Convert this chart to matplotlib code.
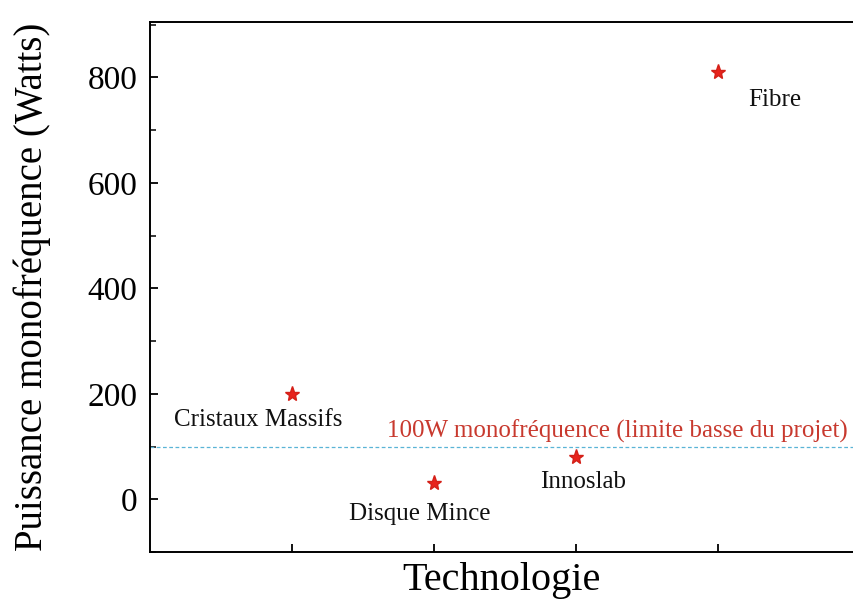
import matplotlib
matplotlib.use("Agg")
import matplotlib.pyplot as plt
from matplotlib.ticker import MultipleLocator

# data
technos = ['Cristaux Massifs', 'Disque Mince', 'Innoslab', 'Fibre']
positions = [1, 2, 3, 4]
puissance = [200, 30, 80, 810]
# label anchor (x, y) in data coords
label_pos = [(0.76, 150), (1.90, -28), (3.05, 32), (4.40, 758)]
limite = 100
limite_txt = '100W monofréquence (limite basse du projet)'

plt.rcParams['font.family'] = ['Liberation Serif', 'DejaVu Serif']

fig = plt.figure(figsize=(8.54, 5.99), dpi=100)
ax = fig.add_axes([150 / 854, 1 - 552 / 599, 703 / 854, 530 / 599])

ax.plot(positions, puissance, linestyle='none', marker='*', markersize=11,
        color='#e8231c', markeredgecolor='#d42018')

for name, (lx, ly) in zip(technos, label_pos):
    ax.text(lx, ly, name, fontsize=18, ha='center', va='center', color='#111111')

ax.axhline(limite, color='#5ab4d6', linestyle=(0, (3, 2)), linewidth=0.9)
ax.text(3.29, 128, limite_txt, fontsize=18, ha='center', va='center', color='#c8392e')

ax.set_xlim(0, 4.95)
ax.set_ylim(-100, 905)
ax.set_xticks(positions)
ax.set_xticklabels([])
ax.yaxis.set_major_locator(MultipleLocator(200))
ax.yaxis.set_minor_locator(MultipleLocator(100))
ax.set_yticks([0, 200, 400, 600, 800])
ax.tick_params(axis='both', which='both', direction='in', labelsize=24)
ax.tick_params(which='major', length=6, width=1.3)
ax.tick_params(which='minor', length=4, width=1.1)
ax.tick_params(axis='y', which='major', pad=9)
ax.tick_params(axis='x', which='minor', bottom=False)
ax.tick_params(axis='x', which='major', pad=0)
ax.spines['right'].set_visible(False)
for s in ['left', 'bottom', 'top']:
    ax.spines[s].set_linewidth(1.4)

ax.set_xlabel('Technologie', fontsize=29, labelpad=7)
ax.set_ylabel('Puissance monofréquence (Watts)', fontsize=28, labelpad=26)

fig.savefig('out.png', dpi=100)
